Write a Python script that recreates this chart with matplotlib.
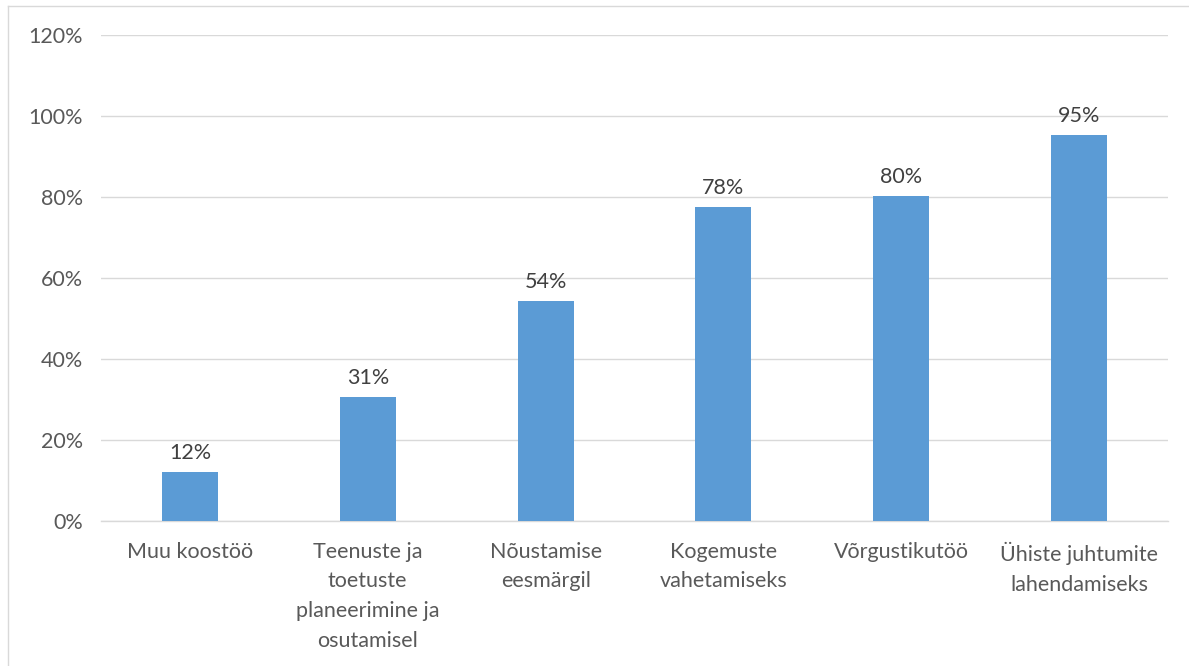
import matplotlib
matplotlib.use("Agg")
import matplotlib.pyplot as plt
from matplotlib.lines import Line2D

categories = ["Muu koostöö", "Teenuste ja\ntoetuste\nplaneerimine ja\nosutamisel",
              "Nõustamise\neesmärgil", "Kogemuste\nvahetamiseks", "Võrgustikutöö",
              "Ühiste juhtumite\nlahendamiseks"]
values = [0.12, 0.306, 0.543, 0.775, 0.802, 0.953]
yticks = [0, 0.2, 0.4, 0.6, 0.8, 1.0, 1.2]
ytick_labels = ["0%", "20%", "40%", "60%", "80%", "100%", "120%"]

plt.rcParams['font.family'] = ['Lato', 'DejaVu Sans']
txt = "#595959"
fs = 15.5
fig = plt.figure(figsize=(11.89, 6.66), dpi=100)
ax = fig.add_axes([101/1189, 1-521/666, (1168-101)/1189, (521-35)/666])
x = list(range(len(categories)))
ax.bar(x, values, width=0.315, color="#5B9BD5", zorder=3)
for xi, v in zip(x, values):
    ax.text(xi, v + 0.022, f"{round(v*100):.0f}%", ha="center", va="bottom",
            fontsize=fs, color="#404040")
ax.set_xlim(-0.5, len(categories) - 0.5)
ax.set_ylim(0, 1.2)
ax.set_yticks(yticks)
ax.set_yticklabels(ytick_labels, fontsize=fs, color=txt)
ax.set_xticks(x)
ax.set_xticklabels(categories, fontsize=fs, color=txt, linespacing=1.6, va="top")
ax.tick_params(axis="both", length=0)
ax.tick_params(axis="y", pad=13)
ax.tick_params(axis="x", pad=15)
ax.grid(axis="y", color="#D9D9D9", linewidth=1, zorder=0)
for s in ["top", "right", "left"]:
    ax.spines[s].set_visible(False)
ax.spines["bottom"].set_color("#D9D9D9")
ax.spines["bottom"].set_linewidth(1)

# chart border (cropped)
fig.add_artist(Line2D([8/1189, 8/1189], [0, 1-6/666], transform=fig.transFigure, color="#D9D9D9", lw=1))
fig.add_artist(Line2D([8/1189, 1], [1-6/666, 1-6/666], transform=fig.transFigure, color="#D9D9D9", lw=1))

fig.savefig("out.png", dpi=100)
